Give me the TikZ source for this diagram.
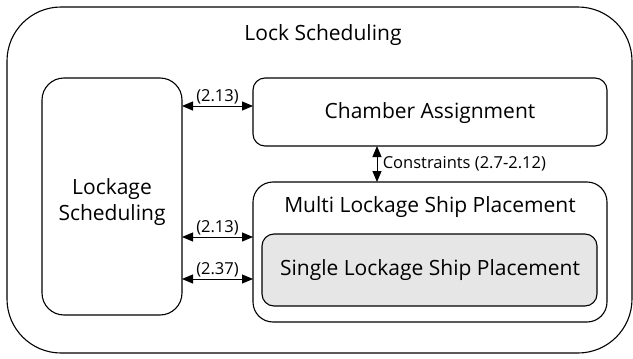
\documentclass[tikz,border=0pt]{standalone}
\usepackage{fontspec}
\setmainfont{Open Sans}
\usetikzlibrary{arrows.meta}
\begin{document}
\begin{tikzpicture}[x=1pt,y=-1pt,
  frame/.style={draw=black,line width=1.1pt},
  link/.style={line width=1pt,{Triangle[length=11pt,width=9pt]}-{Triangle[length=11pt,width=9pt]}},
  big/.style={font=\fontsize{21}{26}\selectfont},
  small/.style={font=\fontsize{16.5}{18}\selectfont}]
\useasboundingbox (0,0) rectangle (633,359);
% outer frame
\draw[frame,rounded corners=54pt] (7,7) rectangle (632,353);
\node[big] (title) at (323,35) {Lock Scheduling};
% boxes
\draw[frame,rounded corners=22pt] (42,78) rectangle (182,315);
\node[big,align=center] (ls) at (112,202) {Lockage\\Scheduling};
\draw[frame,rounded corners=12pt] (253,78) rectangle (607,146);
\node[big] (ca) at (430,113) {Chamber Assignment};
\draw[frame,rounded corners=20pt] (253,182) rectangle (607,322);
\node[big] (mlsp) at (430,207) {Multi Lockage Ship Placement};
\draw[frame,fill={rgb,255:red,230;green,230;blue,230},rounded corners=12pt] (262,234) rectangle (597,306);
\node[big] (slsp) at (430,270) {Single Lockage Ship Placement};
% connectors
\coordinate (a1) at (182,106); \coordinate (b1) at (253,106);
\coordinate (a2) at (182,237); \coordinate (b2) at (253,237);
\coordinate (a3) at (182,279); \coordinate (b3) at (253,279);
\coordinate (c1) at (377,146); \coordinate (c2) at (377,182);
\draw[link] (a1) -- node[small,above=-2pt] {(2.13)} (b1);
\draw[link] (a2) -- node[small,above=-2pt] {(2.13)} (b2);
\draw[link] (a3) -- node[small,above=-2pt] {(2.37)} (b3);
\draw[link] (c1) -- node[small,right=2pt] {Constraints (2.7-2.12)} (c2);
\end{tikzpicture}
\end{document}
